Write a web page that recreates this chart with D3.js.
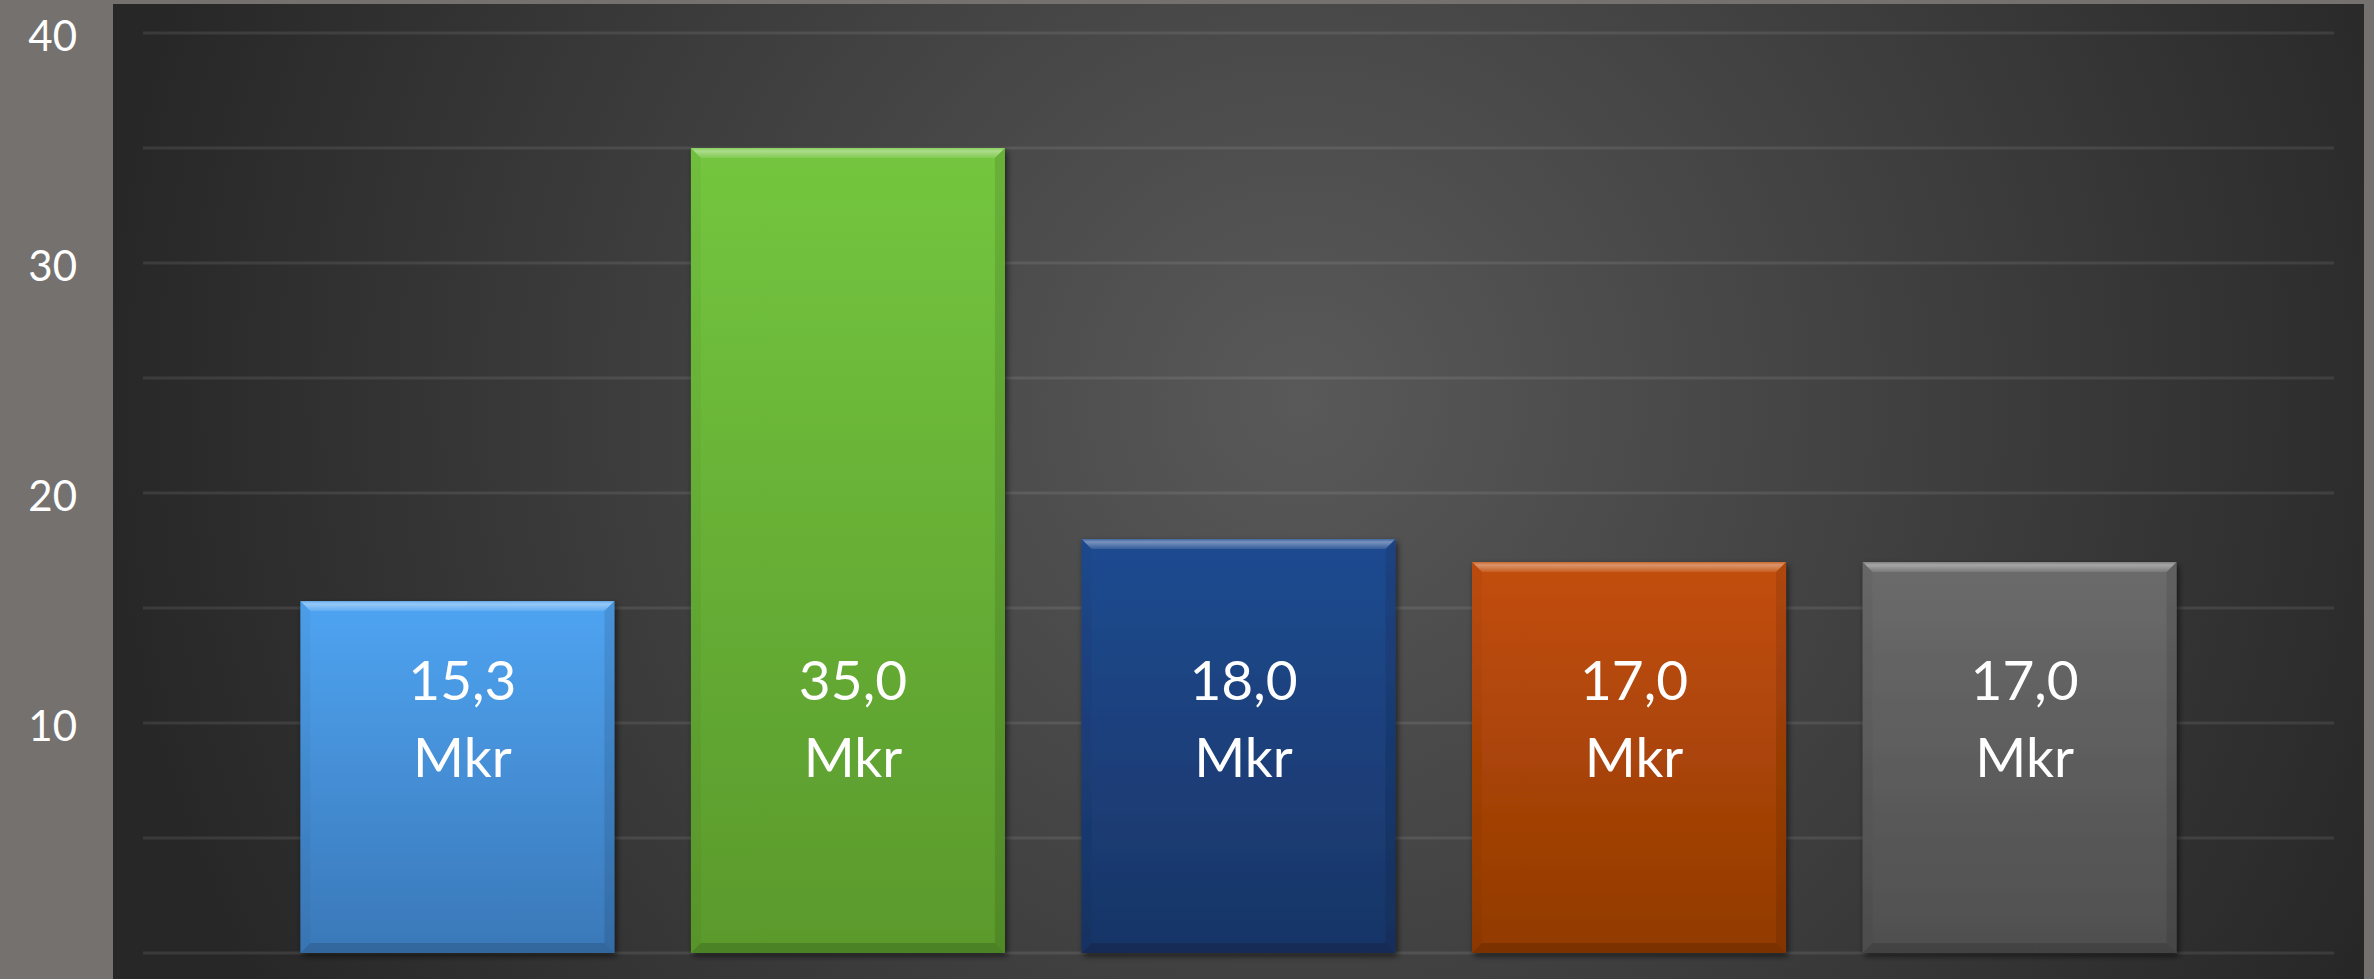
<!DOCTYPE html>
<html>
<head>
<meta charset="utf-8">
<script src="https://cdn.jsdelivr.net/npm/d3@7"></script>
<style>
  html, body { margin: 0; padding: 0; background: #75716f; overflow: hidden; }
  text { font-family: Lato, "Open Sans", sans-serif; fill: #fff; }
</style>
</head>
<body>
<svg id="svg" width="2374" height="979"></svg>
<script>
// chart values
var categories = ["1", "2", "3", "4", "5"];
var values = [15.3, 35.0, 18.0, 17.0, 17.0];
var unit = "Mkr";
var tickLabels = [10, 20, 30, 40];
var gridValues = [0, 5, 10, 15, 20, 25, 30, 35, 40];
var topColors = ["#4fa4f2", "#74c63f", "#1f4b91", "#c34e0a", "#6b6b6b"];
var bottomColors = ["#3a78b8", "#5a992c", "#183465", "#913a04", "#4f4f4f"];

var W = 2374, H = 979;
var svg = d3.select(document.getElementById('svg'));
var defs = svg.append('defs');

// background glow of the plot
var bg = defs.append('radialGradient')
  .attr('id', 'bgGlow')
  .attr('gradientUnits', 'userSpaceOnUse')
  .attr('cx', 1300).attr('cy', 400).attr('r', 1200);
bg.append('stop').attr('offset', 0).attr('stop-color', '#595959');
bg.append('stop').attr('offset', 1).attr('stop-color', '#272727');

// bar gradients
categories.forEach(function(c, i){
  var g = defs.append('linearGradient')
    .attr('id', 'barGrad' + i)
    .attr('x1', 0).attr('y1', 0).attr('x2', 0).attr('y2', 1);
  g.append('stop').attr('offset', 0).attr('stop-color', topColors[i]);
  g.append('stop').attr('offset', 1).attr('stop-color', bottomColors[i]);
});

// top bevel: bright line fading down
var topBevel = defs.append('linearGradient')
  .attr('id', 'topBevel')
  .attr('x1', 0).attr('y1', 0).attr('x2', 0).attr('y2', 1);
topBevel.append('stop').attr('offset', 0).attr('stop-color', '#fff').attr('stop-opacity', 0.15);
topBevel.append('stop').attr('offset', 0.3).attr('stop-color', '#fff').attr('stop-opacity', 0.4);
topBevel.append('stop').attr('offset', 1).attr('stop-color', '#fff').attr('stop-opacity', 0.1);

var shadow = defs.append('filter')
  .attr('id', 'shadow')
  .attr('x', '-10%').attr('y', '-10%').attr('width', '120%').attr('height', '120%');
shadow.append('feDropShadow')
  .attr('dx', 2).attr('dy', 3).attr('stdDeviation', 3)
  .attr('flood-color', '#000').attr('flood-opacity', 0.6);

// outer frame + plot area
svg.append('rect').attr('width', W).attr('height', H).attr('fill', '#75716f');
svg.append('rect')
  .attr('x', 113).attr('y', 4)
  .attr('width', 2364 - 113).attr('height', H - 4)
  .attr('fill', 'url(#bgGlow)');

var x = d3.scaleBand()
  .domain(categories)
  .range([143, 2334])
  .paddingInner(0.196)
  .paddingOuter(0.403);

var y = d3.scaleLinear()
  .domain([0, 40])
  .range([953, 33]);

// gridlines
svg.append('g')
  .selectAll('line')
  .data(gridValues)
  .enter().append('line')
  .attr('x1', x.range()[0])
  .attr('x2', x.range()[1])
  .attr('y1', function(d){ return y(d); })
  .attr('y2', function(d){ return y(d); })
  .attr('stroke', '#ffffff')
  .attr('stroke-opacity', 0.09)
  .attr('stroke-width', 3);

// y axis labels
var yAxis = d3.axisLeft(y)
  .tickValues(tickLabels)
  .tickSize(0)
  .tickPadding(0)
  .tickFormat(d3.format('d'));

var axisG = svg.append('g')
  .attr('transform', 'translate(77,0)')
  .call(yAxis);
axisG.select('.domain').remove();
axisG.selectAll('text')
  .attr('fill', '#fff')
  .style('font-family', 'Lato, "Open Sans", sans-serif')
  .style('font-size', '42px')
  .attr('dy', '0.42em');

// bars
var bevel = 10;
var bars = svg.append('g')
  .selectAll('g')
  .data(values)
  .enter().append('g')
  .attr('filter', 'url(#shadow)');

bars.append('rect')
  .attr('x', function(d, i){ return x(categories[i]); })
  .attr('y', function(d){ return y(d); })
  .attr('width', x.bandwidth())
  .attr('height', function(d){ return y(0) - y(d); })
  .attr('fill', function(d, i){ return 'url(#barGrad' + i + ')'; });

function edge(side){
  return function(d, i){
    var x0 = x(categories[i]), x1 = x0 + x.bandwidth();
    var y0 = y(d), y1 = y(0), b = bevel;
    var pts;
    if (side == 'top') pts = [[x0, y0], [x1, y0], [x1 - b, y0 + b], [x0 + b, y0 + b]];
    if (side == 'bottom') pts = [[x0, y1], [x1, y1], [x1 - b, y1 - b], [x0 + b, y1 - b]];
    if (side == 'left') pts = [[x0, y0], [x0 + b, y0 + b], [x0 + b, y1 - b], [x0, y1]];
    if (side == 'right') pts = [[x1, y0], [x1 - b, y0 + b], [x1 - b, y1 - b], [x1, y1]];
    return pts.map(function(p){ return p.join(','); }).join(' ');
  };
}

bars.append('polygon').attr('points', edge('top')).attr('fill', 'url(#topBevel)');
bars.append('polygon').attr('points', edge('left')).attr('fill', '#000').attr('fill-opacity', 0.03);
bars.append('polygon').attr('points', edge('right')).attr('fill', '#000').attr('fill-opacity', 0.1);
bars.append('polygon').attr('points', edge('bottom')).attr('fill', '#000').attr('fill-opacity', 0.15);

// value labels
var fmt = function(v){ return d3.format('.1f')(v).replace('.', ','); };
var labels = svg.append('g')
  .selectAll('text')
  .data(values)
  .enter().append('text')
  .attr('text-anchor', 'middle')
  .style('font-size', '55px');

labels.append('tspan')
  .attr('x', function(d, i){ return x(categories[i]) + x.bandwidth() / 2 + 5; })
  .attr('y', 700)
  .text(function(d){ return fmt(d); });
labels.append('tspan')
  .attr('x', function(d, i){ return x(categories[i]) + x.bandwidth() / 2 + 5; })
  .attr('y', 777)
  .text(unit);
</script>
</body>
</html>
